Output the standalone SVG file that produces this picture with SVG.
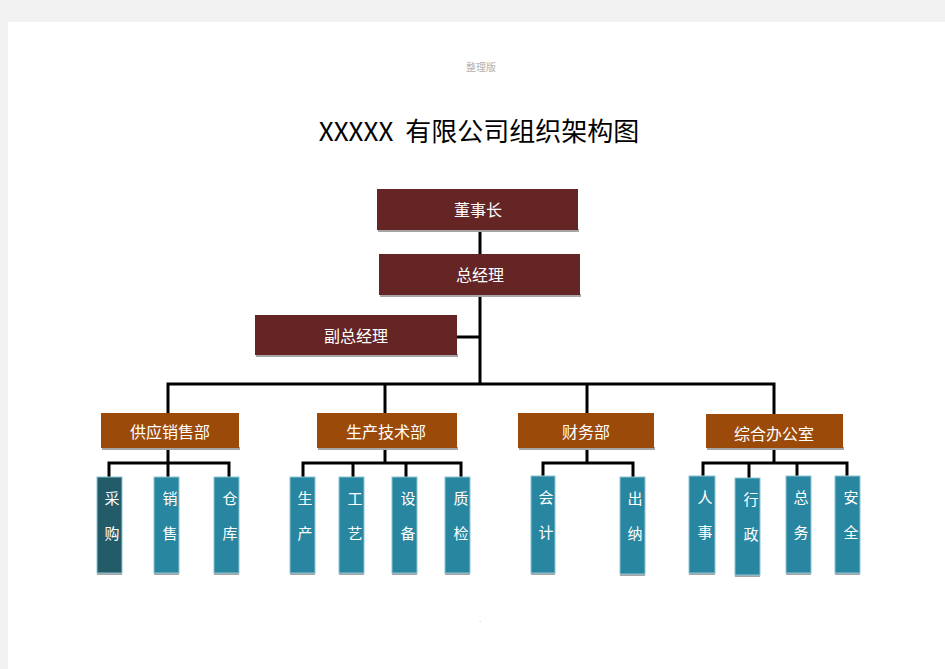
<svg xmlns="http://www.w3.org/2000/svg" width="945" height="669" viewBox="0 0 945 669">
<style>
text{font-family:"Noto Sans CJK SC","Noto Sans",sans-serif;}
.top rect.b{fill:#652525;}
.dept rect.b{fill:#9c4a0a;}
.leaf rect.b{fill:#2986a0;stroke:#8cc4d4;stroke-width:1;}
.leaf.dark rect.b{fill:#235b69;}
rect.s{fill:#a6a6a6;}
.lbl{fill:#ffffff;font-size:16px;text-anchor:middle;}
.ll{fill:#ffffff;font-size:15px;text-anchor:middle;}
#connectors path{fill:none;stroke:#000;stroke-width:3;}
</style>
<rect x="0" y="0" width="945" height="669" fill="#f2f2f2"/>
<rect x="8" y="22" width="937" height="647" fill="#ffffff"/>
<text x="481" y="71" font-size="10" fill="#b0b0b0" text-anchor="middle">整理版</text>
<text x="479" y="141" font-size="26" fill="#000" text-anchor="middle">XXXXX<tspan dx="6"> 有限公司组织架构图</tspan></text>
<text x="480" y="622" font-size="6" fill="#c08080" text-anchor="middle">.</text>

<g id="connectors">
<path d="M480 230 V384" stroke-width="4"/>
<path d="M457 337 H480"/>
<path d="M168 413 V384 H774 V414"/>
<path d="M385 384 V413"/>
<path d="M587 384 V413"/>
<path d="M168 448 V463"/>
<path d="M109 477 V463 H229 V477"/>
<path d="M168 463 V477"/>
<path d="M385 448 V463"/>
<path d="M303 477 V463 H461 V477"/>
<path d="M353 463 V477"/>
<path d="M406 463 V477"/>
<path d="M587 448 V463"/>
<path d="M543 476 V463 H633 V477"/>
<path d="M774 448 V463"/>
<path d="M703 476 V463 H847 V476"/>
<path d="M749 463 V478"/>
<path d="M797 463 V476"/>
</g>

<g id="n-chairman" class="top"><rect class="s" x="378" y="229" width="201" height="3"/><rect class="b" x="377" y="189" width="201" height="41"/><text class="lbl" x="478" y="216">董事长</text></g>
<g id="n-gm" class="top"><rect class="s" x="380" y="294" width="201" height="3"/><rect class="b" x="379" y="254" width="201" height="41"/><text class="lbl" x="480" y="281">总经理</text></g>
<g id="n-vgm" class="top"><rect class="s" x="256" y="354" width="202" height="3"/><rect class="b" x="255" y="315" width="202" height="40"/><text class="lbl" x="356" y="342">副总经理</text></g>

<g id="n-supply" class="dept"><rect class="s" x="102" y="447" width="138" height="3"/><rect class="b" x="101" y="413" width="138" height="35"/><text class="lbl" x="170" y="438">供应销售部</text></g>
<g id="n-prod" class="dept"><rect class="s" x="318" y="447" width="140" height="3"/><rect class="b" x="317" y="413" width="140" height="35"/><text class="lbl" x="386" y="438">生产技术部</text></g>
<g id="n-fin" class="dept"><rect class="s" x="519" y="447" width="136" height="3"/><rect class="b" x="518" y="413" width="136" height="35"/><text class="lbl" x="586" y="438">财务部</text></g>
<g id="n-admin" class="dept"><rect class="s" x="707" y="447" width="137" height="3"/><rect class="b" x="706" y="414" width="137" height="34"/><text class="lbl" x="774" y="440">综合办公室</text></g>

<g id="n-purchase" class="leaf dark"><rect class="s" x="97" y="572" width="25" height="3"/><rect class="b" x="97" y="477" width="25" height="96"/><text class="ll" x="112" y="504">采</text><text class="ll" x="112" y="539">购</text></g>
<g id="n-sales" class="leaf"><rect class="s" x="154" y="572" width="25" height="3"/><rect class="b" x="154" y="477" width="25" height="96"/><text class="ll" x="170" y="504">销</text><text class="ll" x="170" y="539">售</text></g>
<g id="n-store" class="leaf"><rect class="s" x="214" y="572" width="25" height="3"/><rect class="b" x="214" y="477" width="25" height="96"/><text class="ll" x="230" y="504">仓</text><text class="ll" x="230" y="539">库</text></g>
<g id="n-produce" class="leaf"><rect class="s" x="290" y="572" width="25" height="3"/><rect class="b" x="290" y="477" width="25" height="96"/><text class="ll" x="305" y="504">生</text><text class="ll" x="305" y="539">产</text></g>
<g id="n-craft" class="leaf"><rect class="s" x="339" y="572" width="25" height="3"/><rect class="b" x="339" y="477" width="25" height="96"/><text class="ll" x="355" y="504">工</text><text class="ll" x="355" y="539">艺</text></g>
<g id="n-equip" class="leaf"><rect class="s" x="392" y="572" width="25" height="3"/><rect class="b" x="392" y="477" width="25" height="96"/><text class="ll" x="408" y="504">设</text><text class="ll" x="408" y="539">备</text></g>
<g id="n-qc" class="leaf"><rect class="s" x="445" y="572" width="25" height="3"/><rect class="b" x="445" y="477" width="25" height="96"/><text class="ll" x="461" y="504">质</text><text class="ll" x="461" y="539">检</text></g>

<g id="n-account" class="leaf"><rect class="s" x="531" y="572" width="24" height="3"/><rect class="b" x="531" y="476" width="24" height="97"/><text class="ll" x="546" y="503">会</text><text class="ll" x="546" y="538">计</text></g>
<g id="n-cashier" class="leaf"><rect class="s" x="620" y="573" width="25" height="3"/><rect class="b" x="620" y="477" width="25" height="97"/><text class="ll" x="635" y="504">出</text><text class="ll" x="635" y="539">纳</text></g>
<g id="n-hr" class="leaf"><rect class="s" x="689" y="572" width="26" height="3"/><rect class="b" x="689" y="476" width="26" height="97"/><text class="ll" x="705" y="503">人</text><text class="ll" x="705" y="538">事</text></g>
<g id="n-exec" class="leaf"><rect class="s" x="735" y="574" width="25" height="3"/><rect class="b" x="735" y="478" width="25" height="97"/><text class="ll" x="751" y="505">行</text><text class="ll" x="751" y="540">政</text></g>
<g id="n-general" class="leaf"><rect class="s" x="786" y="572" width="25" height="3"/><rect class="b" x="786" y="476" width="25" height="97"/><text class="ll" x="801" y="503">总</text><text class="ll" x="801" y="538">务</text></g>
<g id="n-safety" class="leaf"><rect class="s" x="835" y="572" width="25" height="3"/><rect class="b" x="835" y="476" width="25" height="97"/><text class="ll" x="851" y="503">安</text><text class="ll" x="851" y="538">全</text></g>
</svg>
